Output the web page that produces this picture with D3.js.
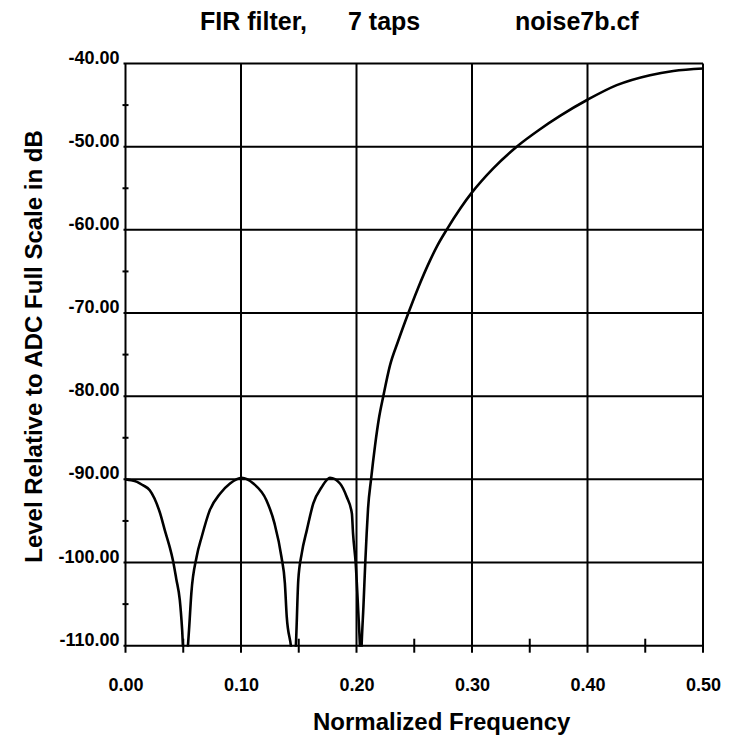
<!DOCTYPE html>
<html>
<head>
<meta charset="utf-8">
<script src="https://cdn.jsdelivr.net/npm/d3@7"></script>
<style>
  html, body { margin: 0; padding: 0; background: #fff; }
  svg { display: block; }
  text { font-family: "Liberation Sans", Arial, sans-serif; font-weight: bold; fill: #000; }
</style>
</head>
<body>
<svg id="chart" width="738" height="735"></svg>
<script>
// ---- data ----
const freq = [0.000, 0.005, 0.010, 0.015, 0.021, 0.030, 0.034, 0.038, 0.041, 0.044, 0.047, 0.049, 0.051, 0.0535, 0.055,
  0.057, 0.0616, 0.066, 0.073, 0.082, 0.0905, 0.1006, 0.1107, 0.122, 0.129, 0.135, 0.138, 0.1396, 0.1433, 0.1455, 0.1475,
  0.1496, 0.1526, 0.157, 0.1626, 0.170, 0.177, 0.1857, 0.1915, 0.196, 0.197, 0.1993, 0.2016, 0.203, 0.2037, 0.2045,
  0.206, 0.2076, 0.2088, 0.210, 0.2126, 0.216, 0.2195, 0.2232, 0.229, 0.236, 0.2449, 0.253, 0.2636, 0.270, 0.278, 0.290,
  0.300, 0.3184, 0.3387, 0.3589, 0.3762, 0.4007, 0.4253, 0.4541, 0.4743, 0.500];
const level = [-90.0, -90.1, -90.3, -90.7, -91.3, -94.1, -96.1, -98.0, -99.7, -102.0, -104.5, -108.0, -113.0, -111.0, -108.1,
  -103.7, -99.3, -96.9, -93.7, -91.7, -90.5, -89.8, -90.5, -92.5, -95.3, -99.3, -102.5, -106.5, -110.1, -113.0, -110.0,
  -102.1, -98.9, -96.1, -92.9, -90.9, -89.8, -90.5, -92.1, -94.1, -96.5, -100.1, -106.1, -110.1, -113.0, -109.7,
  -105.3, -100.0, -96.5, -93.5, -90.0, -86.0, -82.6, -80.0, -76.3, -73.4, -70.0, -67.1, -63.7, -61.9, -60.0, -57.4,
  -55.5, -52.6, -50.0, -47.9, -46.3, -44.3, -42.6, -41.4, -40.9, -40.6];

const xTicks = [0.0, 0.1, 0.2, 0.3, 0.4, 0.5];
const xMinor = [0.05, 0.15, 0.25, 0.35, 0.45];
const yTicks = [-40, -50, -60, -70, -80, -90, -100, -110];
const yMinor = [-45, -55, -65, -75, -85, -95, -105];

const titleParts = ["FIR filter,", "7 taps", "noise7b.cf"];
const xTitle = "Normalized Frequency";
const yTitle = "Level Relative to ADC Full Scale in dB";

// ---- layout ----
const svg = d3.select("#chart");
const L = 125.5, R = 703, T = 63.5, B = 645.7;

const x = d3.scaleLinear().domain([0, 0.5]).range([L, R]);
const y = d3.scaleLinear().domain([-110, -40]).range([B, T]);

const grid = svg.append("g").attr("stroke", "#000").attr("stroke-width", 2);

// horizontal gridlines
grid.selectAll("line.h").data(yTicks).join("line")
  .attr("x1", L - 2).attr("x2", R)
  .attr("y1", d => y(d)).attr("y2", d => y(d));

// vertical gridlines (extend below the axis)
grid.selectAll("line.v").data(xTicks).join("line")
  .attr("x1", d => x(d)).attr("x2", d => x(d))
  .attr("y1", T).attr("y2", B + 7);

// minor x ticks
grid.selectAll("line.xm").data(xMinor).join("line")
  .attr("x1", d => x(d)).attr("x2", d => x(d))
  .attr("y1", B - 7).attr("y2", B + 7);

// minor y ticks
grid.selectAll("line.ym").data(yMinor).join("line")
  .attr("x1", L - 3).attr("x2", L + 3)
  .attr("y1", d => y(d)).attr("y2", d => y(d));

// axes (labels only)
const fmt = d => d.toFixed(2);
const xAxis = svg.append("g").attr("transform", `translate(0,${B})`)
  .call(d3.axisBottom(x).tickValues(xTicks).tickFormat(fmt).tickSize(0));
xAxis.select(".domain").remove();
xAxis.selectAll("text").attr("y", 45).attr("dy", 0)
  .style("font-family", '"Liberation Sans", Arial, sans-serif').style("font-weight", "bold")
  .style("font-size", "18px").attr("fill", "#000");

const yAxis = svg.append("g").attr("transform", `translate(${L},0)`)
  .call(d3.axisLeft(y).tickValues(yTicks).tickFormat(fmt).tickSize(0));
yAxis.select(".domain").remove();
yAxis.selectAll("text").attr("x", -6).attr("dy", 0).attr("y", -0.5)
  .style("font-family", '"Liberation Sans", Arial, sans-serif').style("font-weight", "bold")
  .style("font-size", "18px").attr("fill", "#000");

// clip
svg.append("clipPath").attr("id", "plotclip")
  .append("rect").attr("x", L - 2).attr("y", T - 4).attr("width", R - L + 6).attr("height", B - T + 5);

// curve
const pts = freq.map((f, i) => [f, level[i]]);
svg.append("path")
  .attr("clip-path", "url(#plotclip)")
  .attr("d", d3.line().x(d => x(d[0])).y(d => y(d[1])).curve(d3.curveMonotoneX)(pts))
  .attr("fill", "none").attr("stroke", "#000").attr("stroke-width", 2.6)
  .attr("stroke-linejoin", "round");

// titles
const titleX = [200, 348, 515];
svg.selectAll("text.title").data(titleParts).join("text")
  .attr("class", "title")
  .attr("x", (d, i) => titleX[i]).attr("y", 30)
  .style("font-size", "25px")
  .text(d => d);

svg.append("text").attr("x", 441.7).attr("y", 730)
  .attr("text-anchor", "middle").style("font-size", "24px").text(xTitle);

svg.append("text").attr("transform", "translate(41.7,346.5) rotate(-90)")
  .attr("text-anchor", "middle").style("font-size", "24px").text(yTitle);
</script>
</body>
</html>
